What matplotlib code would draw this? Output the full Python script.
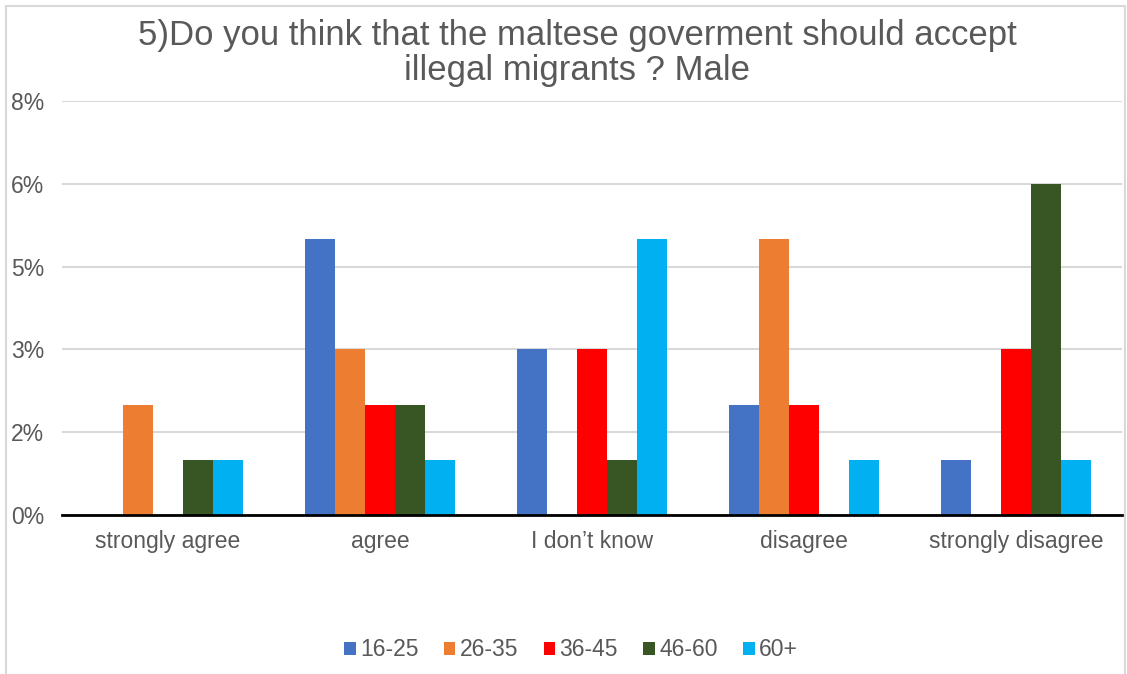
import numpy as np
import matplotlib.pyplot as plt
from matplotlib.patches import Rectangle

plt.rcParams['font.family'] = ['Liberation Sans', 'DejaVu Sans']

categories = ['strongly agree', 'agree', 'I don\u2019t know', 'disagree', 'strongly disagree']
groups = ['16-25', '26-35', '36-45', '46-60', '60+']
values = {
    '16-25': [0, 5, 3, 2, 1],
    '26-35': [2, 3, 0, 5, 0],
    '36-45': [0, 2, 3, 2, 3],
    '46-60': [1, 2, 1, 0, 6],
    '60+':   [1, 1, 5, 1, 1],
}
colors = ['#4472C4', '#ED7D31', '#FF0000', '#375623', '#00B0F0']
yticks = [0, 1.5, 3, 4.5, 6, 7.5]
ytick_labels = ['0%', '2%', '3%', '5%', '6%', '8%']

W, H = 1127, 674
fig = plt.figure(figsize=(W / 100, H / 100), dpi=100)
ax = fig.add_axes([62 / W, 1 - 515 / H, (1122 - 62) / W, (515 - 101) / H])

x = np.arange(len(categories))
bw = 0.1414
for i, g in enumerate(groups):
    ax.bar(x + (i - 2) * bw, values[g], width=bw, color=colors[i], label=g, zorder=2)

ax.set_xlim(-0.5, len(categories) - 0.5)
ax.set_ylim(0, 7.5)
ax.set_yticks(yticks)
ax.set_yticklabels(ytick_labels)
ax.set_xticks(x)
ax.set_xticklabels(categories)
ax.tick_params(axis='both', length=0, labelsize=16.5, colors='#595959')
ax.tick_params(axis='y', pad=13)
ax.tick_params(axis='x', pad=11)
ax.grid(axis='y', color='#d9d9d9', linewidth=1.5, zorder=0)
for s in ['top', 'right', 'left']:
    ax.spines[s].set_visible(False)
ax.spines['bottom'].set_color('black')
ax.spines['bottom'].set_linewidth(2)
ax.spines['bottom'].set_zorder(3)

fig.text(577 / W, 1 - 53 / H,
         '5)Do you think that the maltese goverment should accept\nillegal migrants ? Male',
         ha='center', va='center', fontsize=25, color='#595959', linespacing=1.08)

fig.legend(loc='center', bbox_to_anchor=(571 / W, 1 - 650 / H), ncol=5, frameon=False,
           fontsize=16.5, handlelength=0.5, handleheight=0.5, handletextpad=0.2,
           columnspacing=1.1, labelcolor='#595959')

fig.patches.append(Rectangle((6 / W, -0.01), 1119 / W, 668 / H + 0.01, transform=fig.transFigure,
                             fill=False, edgecolor='#d9d9d9', linewidth=1.5, clip_on=False))

fig.savefig('out.png', dpi=100)
